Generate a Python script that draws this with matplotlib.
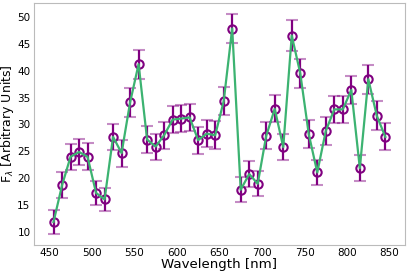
import numpy as np
import matplotlib
matplotlib.use("Agg")
import matplotlib.pyplot as plt

# Longitudes de onda (nm) e fluxo medido
wavelength = [455, 465, 475, 485, 495, 505, 515, 525, 535, 545,
              555, 565, 575, 585, 595, 605, 615, 625, 635, 645,
              655, 665, 675, 685, 695, 705, 715, 725, 735, 745,
              755, 765, 775, 785, 795, 805, 815, 825, 835, 845]
flux = [11.9, 18.7, 24.0, 24.9, 24.0, 17.3, 16.1, 27.7, 24.7, 34.1,
        41.2, 27.2, 25.9, 28.0, 30.9, 31.1, 31.3, 27.1, 28.3, 28.0,
        34.3, 47.8, 17.9, 20.8, 19.0, 27.9, 32.9, 25.8, 46.5, 39.5,
        28.2, 21.1, 28.8, 32.8, 32.8, 36.4, 21.9, 38.4, 31.6, 27.7]
flux_err = [2.2, 2.4, 2.4, 2.4, 2.5, 2.25, 2.1, 2.4, 2.5, 2.7,
            2.7, 2.5, 2.4, 2.5, 2.5, 2.5, 2.5, 2.5, 2.5, 2.6,
            2.6, 2.7, 2.3, 2.45, 2.35, 2.5, 2.5, 2.4, 2.8, 2.7,
            2.55, 2.4, 2.55, 2.55, 2.55, 2.6, 2.4, 2.7, 2.7, 2.5]

fig = plt.figure(figsize=(4.09, 2.73), dpi=100)
ax = fig.add_axes([0.083, 0.103, 0.907, 0.886])

_, caps, _ = ax.errorbar(wavelength, flux, yerr=flux_err, fmt='o', mfc='none',
                         mec='purple', mew=1.5, ms=6, ecolor='purple',
                         elinewidth=1.6, capsize=4, capthick=0.7, zorder=2)
for c in caps:
    c.set_alpha(0.45)
ax.plot(wavelength, flux, color='mediumseagreen', lw=1.6, zorder=3)

ax.set_xlim(432, 868)
ax.set_xticks([450, 500, 550, 600, 650, 700, 750, 800, 850])
ax.set_yticks([10, 15, 20, 25, 30, 35, 40, 45, 50])
ax.tick_params(length=0, labelsize=7.5, pad=2.5)
for s in ax.spines.values():
    s.set_color('#bbbbbb')

ax.set_xlabel("Wavelength [nm]", fontsize=9.6, labelpad=0)
ax.set_ylabel(r"F$_\lambda$ [Arbitrary Units]", fontsize=9.0)
ax.yaxis.set_label_coords(-0.048, 0.5)

fig.savefig("out.png", dpi=100)
